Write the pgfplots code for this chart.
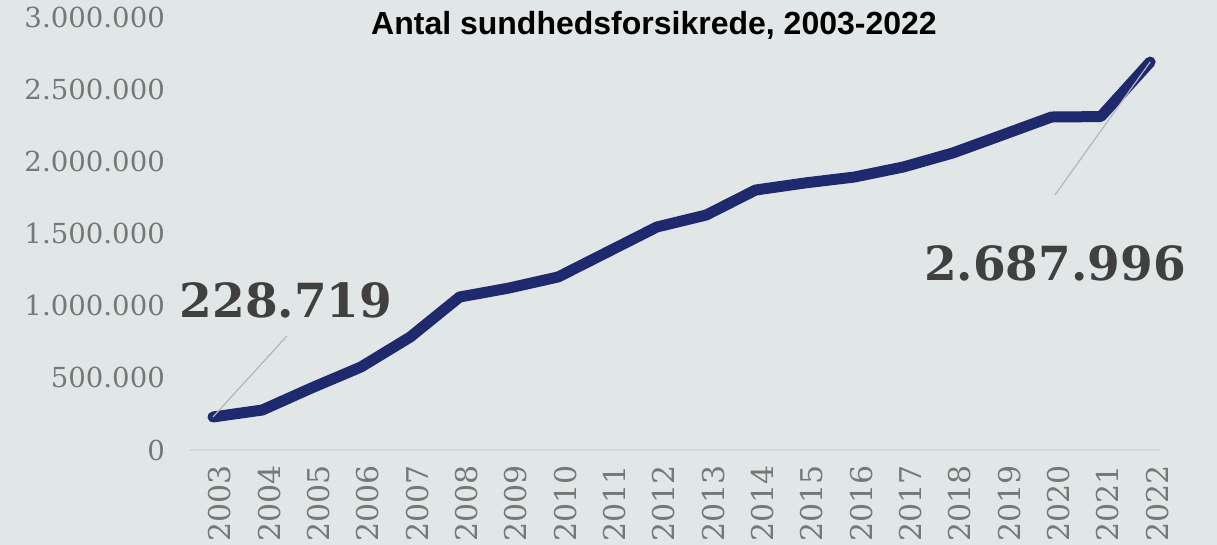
\documentclass[border=0pt]{standalone}
\usepackage{pgfplots}
\pgfplotsset{compat=1.18}
\usepackage{fontspec}
\setmainfont{Liberation Serif}
\newfontfamily\titlefont{Liberation Sans}
\newfontfamily\tickfont{DejaVu Serif}
\definecolor{bg}{HTML}{E1E6E7}
\definecolor{navy}{HTML}{1F2A6E}
\definecolor{tickgray}{HTML}{767878}
\definecolor{anngray}{HTML}{404040}
\definecolor{axgray}{HTML}{D4D6D7}
\definecolor{callgray}{HTML}{B4B6B7}
\begin{document}
\begin{tikzpicture}
\fill[bg] (0,0) rectangle (608.5pt,272.5pt);
\path[use as bounding box] (0,0) rectangle (608.5pt,272.5pt);
\begin{axis}[
  at={(95pt,47.5pt)}, anchor=south west,
  scale only axis, width=485pt, height=216.5pt,
  xmin=-0.466, xmax=19.2, ymin=0, ymax=3000000,
  axis x line*=bottom, axis y line*=left,
  x axis line style={axgray, line width=0.8pt},
  y axis line style={draw=none},
  tick style={draw=none},
  major tick length=0pt,
  clip=false,
  ytick={0,500000,1000000,1500000,2000000,2500000,3000000},
  scaled y ticks=false,
  xtick={0,1,2,3,4,5,6,7,8,9,10,11,12,13,14,15,16,17,18,19},
  xticklabels={2003,2004,2005,2006,2007,2008,2009,2010,2011,2012,2013,2014,2015,2016,2017,2018,2019,2020,2021,2022},
  yticklabel style={font=\tickfont\fontsize{13.8}{16}\selectfont, text=tickgray, xshift=-9pt},
  xticklabel style={font=\tickfont\fontsize{15}{18}\selectfont, text=tickgray, rotate=90, anchor=east, xshift=-4pt, yshift=-3.5pt},
  /pgf/number format/1000 sep={.},
  /pgf/number format/fixed,
  /pgf/number format/assume math mode=true,
]
\addplot[navy, line width=5.5pt, line join=round, line cap=round] coordinates {
(0,228719) (1,277000) (2,430000) (3,575000) (4,783000) (5,1060000)
(6,1122000) (7,1199000) (8,1372000) (9,1545000) (10,1628000) (11,1801000)
(12,1850000) (13,1891000) (14,1961000) (15,2058000) (16,2182000) (17,2307000)
(18,2310000) (19,2687996)
};
\draw[callgray, line width=0.6pt] (axis cs:0,228719) -- (axis cs:1.5,790000);
\draw[callgray, line width=0.6pt] (axis cs:19,2687996) -- (axis cs:17.07,1767000);
\node[font=\tickfont\bfseries\fontsize{23.5}{28}\selectfont, text=anngray] at (axis cs:1.48,1039000) {228.719};
\node[font=\tickfont\bfseries\fontsize{23.5}{28}\selectfont, text=anngray] at (axis cs:17.07,1296000) {2.687.996};
\end{axis}
\node[font=\titlefont\bfseries\fontsize{16}{19}\selectfont] at (327pt,260pt) {Antal sundhedsforsikrede, 2003-2022};
\end{tikzpicture}
\end{document}
